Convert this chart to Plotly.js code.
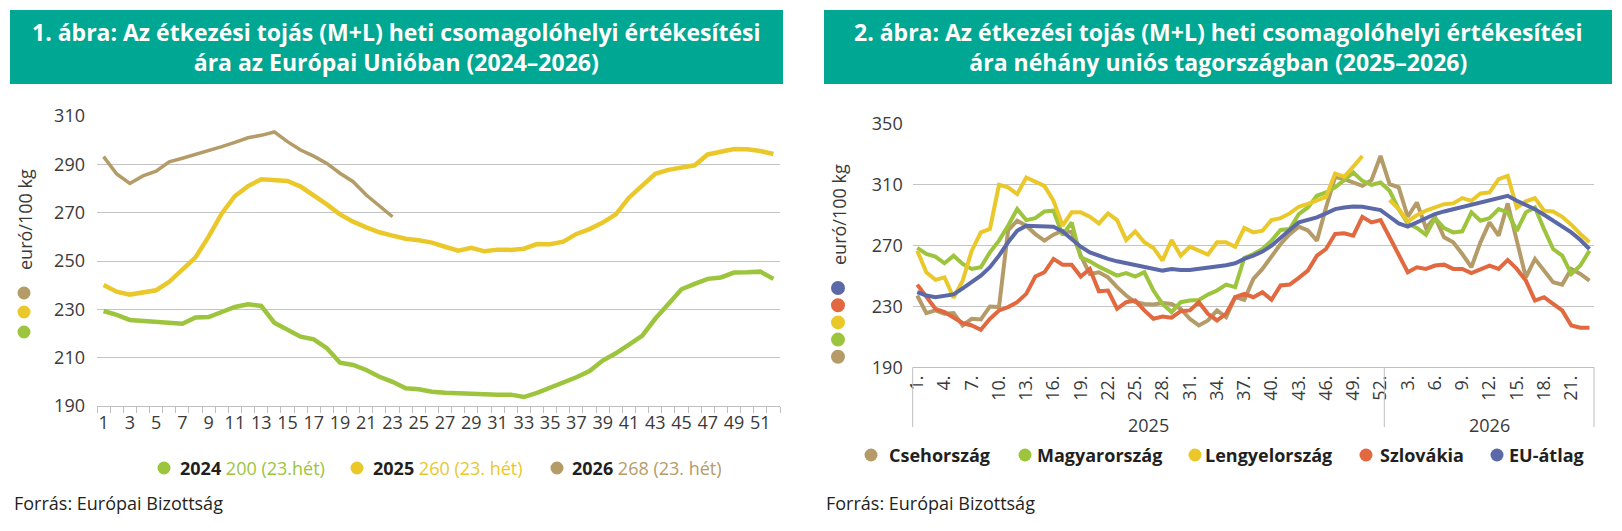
<!DOCTYPE html>
<html><head><meta charset="utf-8">
<script src="https://cdn.plot.ly/plotly-3.0.1.min.js"></script>
<style>html,body{margin:0;padding:0;background:#fff;} #chart{width:1622px;height:531px;}</style>
</head><body><div id="chart"></div>
<script>
// ---------- Chart 1 data ----------
const weeks1 = [1,2,3,4,5,6,7,8,9,10,11,12,13,14,15,16,17,18,19,20,21,22,23,24,25,26,27,28,29,30,31,32,33,34,35,36,37,38,39,40,41,42,43,44,45,46,47,48,49,50,51,52];
const eu2024 = [229.3,227.7,225.6,225.2,224.6,224.2,224.0,226.6,226.8,228.9,231.0,232.1,231.4,224.5,221.7,218.7,217.6,213.9,207.9,207.0,204.9,202.1,200.0,197.3,196.9,195.9,195.5,195.2,194.9,194.7,194.7,194.7,193.7,195.4,197.6,199.4,201.9,204.5,208.8,211.8,215.5,219.0,226.1,232.1,238.3,240.5,242.6,243.2,245.2,245.3,245.6,242.6];
const eu2025 = [240.1,237.3,236.1,237.2,237.9,241.4,246.3,251.5,260.1,269.7,276.9,281.0,283.8,283.6,283.1,280.8,277.2,273.4,269.3,266.3,263.9,261.9,260.5,259.2,258.6,257.6,255.9,254.3,255.5,254.0,254.7,254.6,255.1,257.0,256.9,258.0,261.2,263.2,265.9,269.3,276.2,281.0,286.1,287.7,288.6,289.6,294.1,295.2,296.3,296.2,295.5,294.3];
const eu2026 = [293.2,286.0,282.1,285.2,287.2,291.0,292.5,294.1,295.4,297.3,299.1,301.0,302.0,303.4,299.4,295.9,293.4,290.4,286.3,282.8,277.3,272.9,268.3];
const years1 = ['2024','2025','2026'];
const latest1 = ['200 (23.hét)','260 (23. hét)','268 (23. hét)'];

// ---------- Chart 2 data ----------
const weeks2025 = [1,2,3,4,5,6,7,8,9,10,11,12,13,14,15,16,17,18,19,20,21,22,23,24,25,26,27,28,29,30,31,32,33,34,35,36,37,38,39,40,41,42,43,44,45,46,47,48,49,50,51,52];
const weeks2026 = [1,2,3,4,5,6,7,8,9,10,11,12,13,14,15,16,17,18,19,20,21,22,23];
const years2 = ['2025','2026'];
const cz = [237.2,225.6,227.4,225.2,225.6,217.5,221.9,221.5,230.0,229.6,280.0,286.4,283.1,277.6,273.3,277.2,279.8,279.0,263.4,251.4,252.5,249.2,242.7,237.2,232.8,231.7,231.3,232.2,231.7,228.5,221.9,217.5,220.8,227.4,223.0,236.1,234.4,248.1,254.7,263.4,271.1,277.6,282.5,280.0,273.3,295.1,315.2,313.7,311.5,309.3,313.1,329.0,310.4,308.3,289.0,298.4,281.6,288.6,275.5,272.2,264.5,255.8,272.2,285.3,276.6,297.8,273.3,249.2,261.3,253.6,246.0,244.4,254.7,251.4,247.0];
const hu = [268.5,264.5,262.8,258.4,263.4,258.0,254.7,255.8,265.6,273.3,283.1,294.0,286.8,288.1,292.5,293.0,277.0,285.3,262.3,259.7,256.2,253.6,250.3,251.9,249.7,252.5,240.5,231.7,226.3,232.8,233.9,234.3,237.8,240.5,244.4,242.7,261.9,264.5,267.8,273.3,280.3,280.9,290.8,295.1,302.8,305.0,308.3,313.1,318.1,312.6,310.0,311.5,306.1,294.0,284.6,281.6,277.2,288.1,281.6,278.7,279.4,291.9,286.4,288.1,294.0,291.9,279.8,291.9,295.1,280.9,267.8,263.4,251.4,256.9,266.7];
const pl = [266.7,252.5,247.5,249.2,235.7,247.0,266.7,278.7,281.0,310.0,308.3,303.9,314.8,312.2,309.3,299.5,283.1,291.9,291.9,289.0,284.6,291.2,286.8,273.7,279.4,272.2,268.5,260.2,273.7,263.4,269.3,266.7,264.1,272.2,272.2,269.3,281.6,278.7,279.8,286.8,288.1,291.2,295.6,297.5,299.5,302.0,317.4,315.2,322.0,329.0,null,null,300.0,294.0,286.0,290.0,293.0,295.0,297.3,297.8,301.3,299.5,304.3,305.0,313.7,315.9,295.1,299.1,301.3,293.0,292.5,289.0,283.8,277.7,272.2];
const sk = [244.4,236.1,228.5,226.3,223.0,219.1,217.5,214.7,221.9,227.4,229.6,232.8,238.3,249.7,252.5,261.3,257.5,257.5,249.7,254.7,240.0,240.5,228.5,232.8,233.9,227.4,221.9,223.4,222.6,226.9,227.4,232.8,225.2,220.8,225.2,236.1,238.3,236.1,239.4,234.4,243.8,244.4,248.8,253.6,263.4,267.8,277.7,278.1,276.6,289.0,285.3,286.8,275.5,263.4,252.5,255.8,254.7,256.9,257.5,254.7,254.7,251.9,254.7,256.9,254.7,260.6,254.7,247.0,233.9,236.1,231.7,227.4,217.5,216.0,216.0];
const euAvg = [239.4,237.2,236.1,237.0,237.9,241.9,246.0,250.3,255.8,263.4,272.2,279.8,283.1,283.1,283.1,282.5,279.4,274.4,269.3,265.6,263.4,261.3,259.7,258.4,257.5,256.2,254.7,253.6,254.7,254.0,254.0,254.7,255.4,256.7,257.1,258.4,261.3,263.4,266.1,270.0,275.5,280.3,285.3,287.0,288.6,291.2,294.0,295.1,295.8,295.6,294.7,293.4,289.0,284.6,282.5,285.3,288.1,290.8,292.5,294.0,295.6,296.9,298.4,299.9,301.3,302.8,299.5,296.9,294.0,290.3,286.4,282.5,278.7,273.7,267.8];
const countries = ['Csehország','Magyarország','Lengyelország','Szlovákia','EU-átlag'];

// ---------- text ----------
const title1 = '1. ábra: Az étkezési tojás (M+L) heti csomagolóhelyi értékesítési<br>ára az Európai Unióban (2024–2026)';
const title2 = '2. ábra: Az étkezési tojás (M+L) heti csomagolóhelyi értékesítési<br>ára néhány uniós tagországban (2025–2026)';
const yTitle = 'euró/100 kg';
const source = 'Forrás: Európai Bizottság';

// ---------- styles ----------
const W = 1622, H = 531;
const px = x => x / W;
const py = y => 1 - y / H;
const BODY = '"Open Sans", sans-serif';
const TXT = '#3a3a3a', DARK = '#231f20', GRID = '#c4c4c4', TEAL = '#00a792';
const C1 = ['#9cc43c', '#eac82a', '#b49b67'];
const C2 = ['#b49b67', '#9cc43c', '#eac82a', '#e2683f', '#5c69a8'];

const x1 = weeks1.map(String);
const cats2 = weeks2025.map(w => '2025-' + w).concat(weeks2026.map(w => '2026-' + w));
const weeksAll2 = weeks2025.concat(weeks2026);
const tick2vals = cats2.filter((c, k) => k % 3 === 0);
const tick2text = weeksAll2.filter((w, k) => k % 3 === 0).map(w => w + '.');

const data = [
  {x: x1, y: eu2024, type: 'scatter', mode: 'lines', line: {color: C1[0], width: 4.5}, xaxis: 'x', yaxis: 'y', name: years1[0]},
  {x: x1, y: eu2025, type: 'scatter', mode: 'lines', line: {color: C1[1], width: 4.5}, xaxis: 'x', yaxis: 'y', name: years1[1]},
  {x: x1.slice(0, eu2026.length), y: eu2026, type: 'scatter', mode: 'lines', line: {color: C1[2], width: 3.5}, xaxis: 'x', yaxis: 'y', name: years1[2]},
];
[cz, hu, pl, sk, euAvg].forEach((s, k) => data.push({
  x: cats2, y: s, type: 'scatter', mode: 'lines', connectgaps: false,
  line: {color: C2[k], width: 4}, xaxis: 'x2', yaxis: 'y2', name: countries[k]
}));

const shapes = [];
const annotations = [];
function dot(cx, cy, r, color) {
  shapes.push({type: 'circle', xref: 'paper', yref: 'paper', x0: px(cx - r), x1: px(cx + r), y0: py(cy + r), y1: py(cy - r), fillcolor: color, line: {width: 0}});
}
function text(x, y, t, opts) {
  annotations.push(Object.assign({xref: 'paper', yref: 'paper', x: px(x), y: py(y), text: t, showarrow: false,
    xanchor: 'left', yanchor: 'middle', font: {family: BODY, size: 18, color: DARK}}, opts || {}));
}

// title boxes
shapes.push({type: 'rect', xref: 'paper', yref: 'paper', x0: px(10), x1: px(783), y0: py(84), y1: py(10), fillcolor: TEAL, line: {width: 0}, layer: 'below'});
shapes.push({type: 'rect', xref: 'paper', yref: 'paper', x0: px(824), x1: px(1612), y0: py(84), y1: py(10), fillcolor: TEAL, line: {width: 0}, layer: 'below'});
text(396.5, 47, title1, {xanchor: 'center', font: {family: BODY, size: 23, color: '#ffffff', weight: 'bold'}});
text(1218, 47, title2, {xanchor: 'center', font: {family: BODY, size: 23, color: '#ffffff', weight: 'bold'}});

// y titles + colour dots
text(25, 220, yTitle, {xanchor: 'center', textangle: -90, font: {family: BODY, size: 18, color: TXT}});
dot(24, 293, 6.5, C1[2]); dot(24, 312, 6.5, C1[1]); dot(24, 332, 6.5, C1[0]);
text(839, 215, yTitle, {xanchor: 'center', textangle: -90, font: {family: BODY, size: 18, color: TXT}});
[C2[4], C2[3], C2[2], C2[1], C2[0]].forEach((c, k) => dot(838, 288 + k * 17.2, 7, c));

// legend 1
const lg1 = [[164, 177.5], [357, 371], [557, 570]];
lg1.forEach((p, k) => {
  dot(p[0], 468, 6.5, C1[k]);
  text(p[1], 468, '<b>' + years1[k] + '</b> <span style="color:' + C1[k] + '">' + latest1[k] + '</span>');
});
// legend 2
const lg2 = [[871, 887], [1025, 1035], [1195, 1203], [1366, 1378], [1497, 1507]];
lg2.forEach((p, k) => {
  dot(p[0], 455, 6.5, C2[k]);
  text(p[1], 455, '<b>' + countries[k] + '</b>', {font: {family: BODY, size: 18, color: DARK}});
});

// sources
text(12, 503, source);
text(824, 503, source);

// chart 2 group separators + year labels
[912.7, 1384.3, 1594].forEach(x => shapes.push({type: 'line', xref: 'paper', yref: 'paper', x0: px(x), x1: px(x), y0: py(367.3), y1: py(427), line: {color: '#bfbfbf', width: 1}}));
text(1148.5, 425, years2[0], {xanchor: 'center', font: {family: BODY, size: 18, color: TXT}});
text(1489, 425, years2[1], {xanchor: 'center', font: {family: BODY, size: 18, color: TXT}});

const tickfont = {family: BODY, size: 18, color: TXT};
const layout = {
  width: W, height: H, margin: {l: 0, r: 0, t: 0, b: 0},
  paper_bgcolor: '#ffffff', plot_bgcolor: 'rgba(0,0,0,0)', showlegend: false,
  xaxis: {domain: [px(97), px(780)], anchor: 'y', type: 'category', range: [-0.5, 51.5],
    tickvals: x1, ticktext: weeks1.map(w => (w % 2 === 1 ? String(w) : '')),
    tickson: 'boundaries', ticks: 'outside', ticklen: 6, tickcolor: '#bfbfbf', tickwidth: 1,
    showline: true, linecolor: '#bfbfbf', linewidth: 1, showgrid: false, tickfont: tickfont, tickangle: 0, fixedrange: true},
  yaxis: {domain: [py(406), py(116)], anchor: 'x', range: [190, 310], tick0: 190, dtick: 20,
    showgrid: true, gridcolor: GRID, gridwidth: 1, zeroline: false, ticks: '', tickfont: tickfont, ticklabelstandoff: 11, fixedrange: true},
  xaxis2: {domain: [px(912.7), px(1594)], anchor: 'y2', type: 'category', range: [-0.5, 74.5],
    tickvals: tick2vals, ticktext: tick2text, tickangle: -90, ticks: '',
    showline: true, linecolor: '#bfbfbf', linewidth: 1, showgrid: false, tickfont: tickfont, fixedrange: true},
  yaxis2: {domain: [py(367.3), py(124)], anchor: 'x2', range: [190, 350], tick0: 190, dtick: 40,
    showgrid: true, gridcolor: GRID, gridwidth: 1, zeroline: false, ticks: '', tickfont: tickfont, ticklabelstandoff: 9, fixedrange: true},
  shapes: shapes, annotations: annotations
};
Plotly.newPlot('chart', data, layout, {displayModeBar: false, staticPlot: true});
</script></body></html>
